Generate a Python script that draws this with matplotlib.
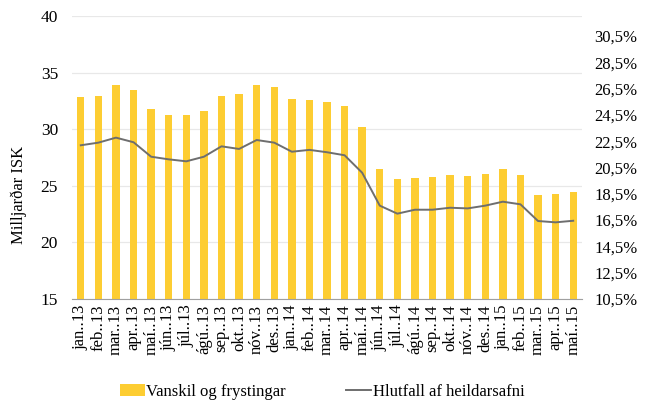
import numpy as np
import matplotlib
matplotlib.use('Agg')
import matplotlib.pyplot as plt
from matplotlib.patches import Patch
from matplotlib.lines import Line2D

plt.rcParams['font.family'] = ['Liberation Serif', 'DejaVu Serif']

# data
months = ['jan..13', 'feb..13', 'mar..13', 'apr..13', 'maí..13', 'jún..13', 'júl..13',
          'ágú..13', 'sep..13', 'okt..13', 'nóv..13', 'des..13',
          'jan..14', 'feb..14', 'mar..14', 'apr..14', 'maí..14', 'jún..14', 'júl..14',
          'ágú..14', 'sep..14', 'okt..14', 'nóv..14', 'des..14',
          'jan..15', 'feb..15', 'mar..15', 'apr..15', 'maí..15']
vanskil = [32.85, 32.96, 33.9, 33.46, 31.78, 31.23, 31.23, 31.63, 32.96, 33.1, 33.9, 33.7,
           32.64, 32.6, 32.4, 32.05, 30.2, 26.5, 25.6, 25.7, 25.8, 25.93, 25.84, 26.07,
           26.5, 25.95, 24.16, 24.27, 24.48]
hlutfall = [22.19, 22.39, 22.77, 22.42, 21.32, 21.12, 20.97, 21.32, 22.11, 21.91, 22.59, 22.39,
            21.70, 21.84, 21.66, 21.43, 20.1, 17.6, 16.99, 17.29, 17.29, 17.44, 17.39, 17.6,
            17.9, 17.7, 16.43, 16.33, 16.45]
left_ticks = [15, 20, 25, 30, 35, 40]
right_ticks = [10.5, 12.5, 14.5, 16.5, 18.5, 20.5, 22.5, 24.5, 26.5, 28.5, 30.5]

BAR_COLOR = '#FDCD32'
LINE_COLOR = '#6E6E6E'

fig = plt.figure(figsize=(6.48, 4.05), dpi=100)
ax = fig.add_axes([72/648, 1 - 299/405, 510/648, 283/405])
ax2 = ax.twinx()

x = np.arange(len(months))
ax.bar(x, vanskil, width=0.42, color=BAR_COLOR, zorder=2)
ax2.plot(x, hlutfall, color=LINE_COLOR, linewidth=1.4, zorder=3)

ax.set_xlim(-0.5, len(months) - 0.5)
ax.set_ylim(15, 40)
ax.set_yticks(left_ticks)
ax.set_yticklabels([str(t) for t in left_ticks], fontsize=12.5)
ax.grid(axis='y', color='#E8E8E8', linewidth=0.9, zorder=0)
ax.set_axisbelow(True)

ax2.set_ylim(10.5, 10.5 + 20 * 283 / (26.3 * 10))
ax2.set_yticks(right_ticks)
ax2.set_yticklabels([('%.1f%%' % t).replace('.', ',') for t in right_ticks], fontsize=12)

ax.set_xticks(x)
ax.set_xticklabels(months, rotation=90, fontsize=12)

for a in (ax, ax2):
    for s in ('top', 'left', 'right', 'bottom'):
        a.spines[s].set_visible(False)
    a.tick_params(length=0)
ax.spines['bottom'].set_visible(True)
ax.spines['bottom'].set_color('#A0A0A0')
ax.tick_params(axis='y', pad=10)
ax.tick_params(axis='x', pad=4)
ax2.tick_params(axis='y', pad=9)

fig.text(19/648, 1 - 195/405, 'Milljarðar ISK', rotation=90, ha='center', va='center', fontsize=12)

handles = [Patch(facecolor=BAR_COLOR, edgecolor='none'),
           Line2D([0], [0], color=LINE_COLOR, linewidth=1.4)]
fig.legend(handles, ['Vanskil og frystingar', 'Hlutfall af heildarsafni'],
           loc='center', bbox_to_anchor=(322/648, 1 - 392/405), ncol=2, frameon=False,
           fontsize=12, handlelength=1.5, handletextpad=0.1, columnspacing=3.6)

fig.savefig('out.png', dpi=100)
